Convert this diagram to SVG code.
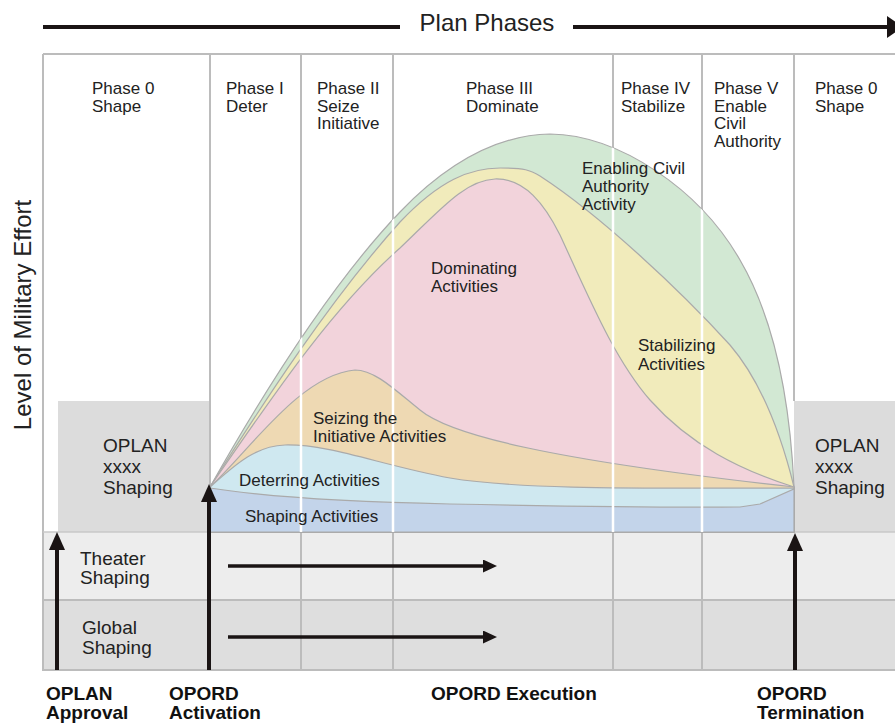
<svg xmlns="http://www.w3.org/2000/svg" width="895" height="724" viewBox="0 0 895 724">
<style>
text{font-family:"Liberation Sans",Arial,sans-serif;fill:#222}
.h{font-size:17px}
.lb{font-size:17px}
.big{font-size:19px}
.bold{font-size:19px;font-weight:bold;fill:#111}
.grid{stroke:#bcbcbc;stroke-width:2;fill:none}
.wl{stroke:#fff;stroke-width:2.5}
.area{stroke:#aaa;stroke-width:1.2}
.conn{stroke:#1a1414;fill:none}
</style>
<defs>
<marker id="ahv" viewBox="0 0 18 16" refX="8" refY="8" markerWidth="18" markerHeight="16" markerUnits="userSpaceOnUse" orient="auto"><path d="M0,0 L18,8 L0,16 z" fill="#1a1414"/></marker>
<marker id="ahs" viewBox="0 0 14 13" refX="6" refY="6.5" markerWidth="14" markerHeight="13" markerUnits="userSpaceOnUse" orient="auto"><path d="M0,0 L14,6.5 L0,13 z" fill="#1a1414"/></marker>
<marker id="ahb" viewBox="0 0 16 22" refX="8" refY="11" markerWidth="16" markerHeight="22" markerUnits="userSpaceOnUse" orient="auto"><path d="M0,0 L16,11 L0,22 z" fill="#1a1414"/></marker>
<clipPath id="env"><path d="M210,487 C 262,395 330,285 400,212 C 450,160 500,135 550,134 C 620,135 700,190 740,260 C 775,320 790,400 794,487 L794,532 L210,532 Z"/></clipPath>
</defs>
<rect width="895" height="724" fill="#fff"/>

<g id="rows">
<rect x="43" y="532" width="852" height="68" fill="#ededed"/>
<rect x="43" y="600" width="852" height="70" fill="#dedede"/>
</g>
<g id="oplan-left"><rect x="58" y="401" width="152" height="131" fill="#dcdcdc"/>
<text class="big" x="103" y="452">OPLAN</text><text class="big" x="103" y="473">xxxx</text><text class="big" x="103" y="494">Shaping</text></g>
<g id="oplan-right"><rect x="794" y="401" width="101" height="131" fill="#dcdcdc"/>
<text class="big" x="815" y="452">OPLAN</text><text class="big" x="815" y="473">xxxx</text><text class="big" x="815" y="494">Shaping</text></g>

<g id="grid">
<path class="grid" d="M43,54 H895 M43,54 V671 M43,670 H895 M43,600 H895 M210,54 V487 M301,54 V670 M393,54 V670 M613,54 V670 M702,54 V670 M794,54 V401"/>
<path d="M43,532 H895" stroke="#c8c8c8" stroke-width="1.5"/>
</g>

<g id="enabling-civil-authority">
<path class="area" fill="#d2e8d3" d="M210,487 C 262,395 330,285 400,212 C 450,160 500,135 550,134 C 620,135 700,190 740,260 C 775,320 790,400 794,487 L794,532 L210,532 Z"/>
</g>
<g id="stabilizing">
<path class="area" fill="#f1ebbb" d="M210,487 C 265,400 330,300 400,222 C 440,180 470,168 500,168 C 525,168 530,170 540,176 C 600,215 680,290 730,345 C 760,380 780,430 794,487 L794,532 L210,532 Z"/>
</g>
<g id="dominating">
<path class="area" fill="#f2d3db" d="M210,487 C 270,400 330,310 400,248 C 440,210 465,180 495,179 C 525,178 545,205 560,235 C 590,300 615,360 650,400 C 690,445 740,470 794,487 L794,532 L210,532 Z"/>
</g>
<g id="seizing">
<path class="area" fill="#eed9b3" d="M210,487 C 250,450 300,375 355,370 C 375,370 395,390 420,410 C 450,435 550,460 794,487 L794,532 L210,532 Z"/>
</g>
<g id="deterring">
<path class="area" fill="#cfe8f0" d="M210,487 C 235,465 255,446 285,445 C 330,444 380,465 450,478 C 520,490 650,488 794,488 L794,532 L210,532 Z"/>
</g>
<g id="shaping">
<path class="area" fill="#c3d4ea" d="M210,488 C 260,496 350,502 450,504 C 550,506 650,508 740,507 L760,504 L794,489 L794,532 L210,532 Z"/>
</g>
<g id="phase-dividers-in-curve" clip-path="url(#env)">
<path class="wl" d="M301,54 V532 M393,54 V532 M613,54 V532 M702,54 V532"/>
</g>

<g id="enabling-label"><text class="lb" x="582" y="174">Enabling Civil</text><text class="lb" x="582" y="192">Authority</text><text class="lb" x="582" y="210">Activity</text></g>
<g id="stabilizing-label"><text class="lb" x="638" y="351">Stabilizing</text><text class="lb" x="638" y="370">Activities</text></g>
<g id="dominating-label"><text class="lb" x="431" y="274">Dominating</text><text class="lb" x="431" y="292">Activities</text></g>
<g id="seizing-label"><text class="lb" x="313" y="424">Seizing the</text><text class="lb" x="313" y="442">Initiative Activities</text></g>
<g id="deterring-label"><text class="lb" x="239" y="486">Deterring Activities</text></g>
<g id="shaping-label"><text class="lb" x="245" y="522">Shaping Activities</text></g>

<g id="plan-phases">
<text x="487" y="31" font-size="24" text-anchor="middle">Plan Phases</text>
</g>
<g id="phase0-shape"><text class="h" x="92" y="94">Phase 0</text><text class="h" x="92" y="111.5">Shape</text></g>
<g id="phase1-deter"><text class="h" x="226" y="94">Phase I</text><text class="h" x="226" y="111.5">Deter</text></g>
<g id="phase2-seize"><text class="h" x="317" y="94">Phase II</text><text class="h" x="317" y="111.5">Seize</text><text class="h" x="317" y="129">Initiative</text></g>
<g id="phase3-dominate"><text class="h" x="466" y="94">Phase III</text><text class="h" x="466" y="111.5">Dominate</text></g>
<g id="phase4-stabilize"><text class="h" x="621" y="94">Phase IV</text><text class="h" x="621" y="111.5">Stabilize</text></g>
<g id="phase5-enable"><text class="h" x="714" y="94">Phase V</text><text class="h" x="714" y="111.5">Enable</text><text class="h" x="714" y="129">Civil</text><text class="h" x="714" y="146.5">Authority</text></g>
<g id="phase0-shape-end"><text class="h" x="815" y="94">Phase 0</text><text class="h" x="815" y="111.5">Shape</text></g>

<g id="y-axis"><text x="0" y="0" font-size="24" text-anchor="middle" transform="translate(31,315) rotate(-90)">Level of Military Effort</text></g>

<g id="theater-shaping"><text class="big" x="80" y="565">Theater</text><text class="big" x="80" y="584">Shaping</text></g>
<g id="global-shaping"><text class="big" x="82" y="634">Global</text><text class="big" x="82" y="654">Shaping</text></g>

<g id="oplan-approval"><text class="bold" x="46" y="700">OPLAN</text><text class="bold" x="46" y="719">Approval</text></g>
<g id="opord-activation"><text class="bold" x="169" y="700">OPORD</text><text class="bold" x="169" y="719">Activation</text></g>
<g id="opord-execution"><text class="bold" x="431" y="700">OPORD Execution</text></g>
<g id="opord-termination"><text class="bold" x="757" y="700">OPORD</text><text class="bold" x="757" y="719">Termination</text></g>

<g id="connectors">
<line class="conn" x1="43" y1="27" x2="400" y2="27" stroke-width="4"/>
<line class="conn" x1="573" y1="27" x2="895" y2="27" stroke-width="4" marker-end="url(#ahb)"/>
<line class="conn" x1="57" y1="670" x2="57" y2="542" stroke-width="4" marker-end="url(#ahv)"/>
<line class="conn" x1="209" y1="670" x2="209" y2="494" stroke-width="4" marker-end="url(#ahv)"/>
<line class="conn" x1="795" y1="670" x2="795" y2="543" stroke-width="4" marker-end="url(#ahv)"/>
<line class="conn" x1="228" y1="566" x2="489" y2="566" stroke-width="3.5" marker-end="url(#ahs)"/>
<line class="conn" x1="228" y1="637" x2="489" y2="637" stroke-width="3.5" marker-end="url(#ahs)"/>
</g>
</svg>
